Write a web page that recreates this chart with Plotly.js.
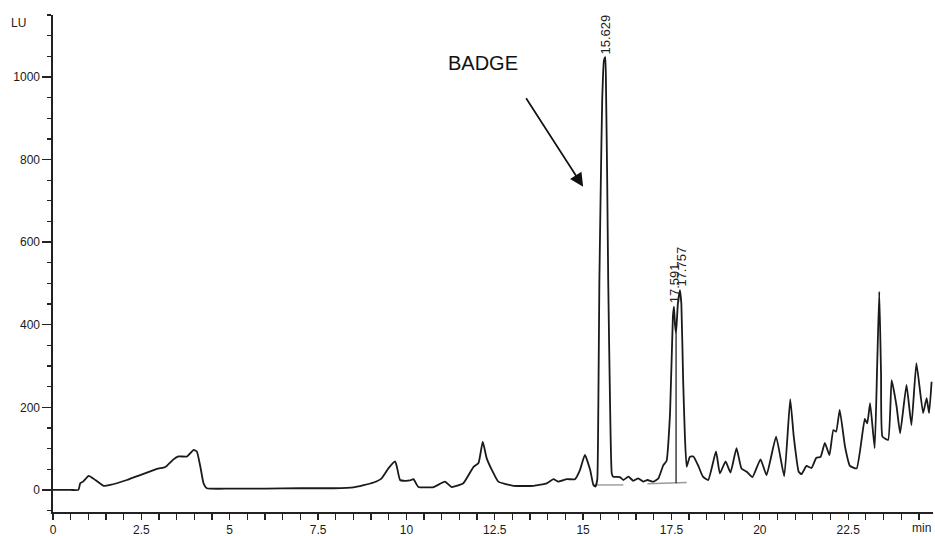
<!DOCTYPE html>
<html>
<head>
<meta charset="utf-8">
<script src="https://cdn.plot.ly/plotly-3.0.1.min.js"></script>
<style>
html,body{margin:0;padding:0;background:#fff;}
#chart{width:935px;height:536px;}
</style>
</head>
<body>
<div id="chart"></div>
<script>
// Retention time (min)
const time = [0,0.5,0.72,0.77,0.85,1.01,1.20,1.43,1.62,2.09,2.47,2.94,3.13,3.22,3.41,3.55,3.79,3.98,4.07,4.17,4.26,4.35,5.0,6.0,7.0,7.94,8.5,9.07,9.30,9.49,9.68,9.73,9.82,9.96,10.1,10.2,10.34,10.77,11.09,11.28,11.61,11.9,12.04,12.16,12.27,12.42,12.6,13.03,13.6,13.97,14.16,14.3,14.54,14.77,14.91,15.05,15.2,15.29,15.35,15.40,15.43,15.46,15.50,15.54,15.59,15.629,15.65,15.68,15.71,15.76,15.81,15.85,16.04,16.14,16.28,16.42,16.56,16.70,16.82,16.99,17.13,17.27,17.36,17.46,17.54,17.57,17.60,17.63,17.68,17.74,17.78,17.83,17.88,17.93,18.02,18.12,18.25,18.39,18.54,18.76,18.87,19.03,19.17,19.34,19.48,19.63,19.79,20.02,20.19,20.46,20.69,20.86,20.96,21.10,21.18,21.32,21.46,21.60,21.72,21.84,21.97,22.08,22.16,22.26,22.41,22.55,22.74,22.97,23.04,23.12,23.25,23.32,23.38,23.43,23.47,23.63,23.73,23.87,23.97,24.15,24.29,24.43,24.62,24.72,24.79,24.86];
// Fluorescence signal (LU)
const signal = [0,0,0,16,20,34,24,10,12,24,36,51,54,58,74,81,81,97,93,56,16,4,3,3,4,4,6,18,28,52,69,56,24,22,23,26,7,7,20,7,16,56,65,117,77,48,20,10,10,16,26,20,26,26,48,85,48,12,8,25,200,508,740,944,1040,1048,960,760,508,220,40,32,31,24,32,22,28,20,24,20,28,60,70,186,420,444,400,380,450,484,450,266,130,56,80,81,60,32,24,93,40,69,42,101,52,44,31,74,36,129,33,220,129,44,38,58,53,78,80,114,84,145,141,194,105,58,52,172,161,210,101,300,480,280,129,121,266,202,137,254,157,307,186,222,186,262];

// Integration baselines
const base1X = [15.29, 16.14];
const base1Y = [12, 12];
const base2X = [16.82, 17.93];
const base2Y = [15, 18];
const dropX = [17.63, 17.63];
const dropY = [16, 380];

// Peak labels
const peakTimes = [15.629, 17.591, 17.757];
const peakHeights = [1048, 444, 484];
const peakLabels = ['15.629', '17.591', '17.757'];

// Axis ticks
const xTickVals = [0, 2.5, 5, 7.5, 10, 12.5, 15, 17.5, 20, 22.5];
const xTickText = ['0', '2.5', '5', '7.5', '10', '12.5', '15', '17.5', '20', '22.5'];
const yTickVals = [0, 200, 400, 600, 800, 1000];

const traces = [
  {x: base1X, y: base1Y, mode: 'lines', line: {color: '#9a9a9a', width: 1.4}, hoverinfo: 'skip'},
  {x: base2X, y: base2Y, mode: 'lines', line: {color: '#9a9a9a', width: 1.4}, hoverinfo: 'skip'},
  {x: dropX, y: dropY, mode: 'lines', line: {color: '#222', width: 1.3}, hoverinfo: 'skip'},
  {x: time, y: signal, mode: 'lines', line: {color: '#1a1a1a', width: 1.8, shape: 'spline', smoothing: 0.4}}
];

const annotations = peakLabels.map((t, i) => ({
  x: peakTimes[i], y: peakHeights[i], xref: 'x', yref: 'y',
  text: t, textangle: -90, showarrow: false,
  xanchor: 'center', yanchor: 'bottom', yshift: 1,
  font: {family: 'Liberation Sans, Arial, sans-serif', size: 13, color: '#222'}
}));
annotations.push({
  x: 12.17, y: 1033, xref: 'x', yref: 'y', text: 'BADGE', showarrow: false,
  font: {family: 'Liberation Sans, Arial, sans-serif', size: 20, color: '#111'}
});
annotations.push({
  x: 15.0, y: 734, xref: 'x', yref: 'y', ax: 13.36, ay: 952, axref: 'x', ayref: 'y',
  text: '', showarrow: true, arrowhead: 2, arrowsize: 1.6, arrowwidth: 1.7, arrowcolor: '#111'
});
annotations.push({
  x: 0, y: 1, xref: 'paper', yref: 'paper', xanchor: 'right', yanchor: 'middle',
  xshift: -25, yshift: -8, text: 'LU', showarrow: false,
  font: {family: 'Liberation Sans, Arial, sans-serif', size: 12, color: '#222'}
});
annotations.push({
  x: 1, y: 0, xref: 'paper', yref: 'paper', xanchor: 'right', yanchor: 'top',
  xshift: 0, yshift: -7, text: 'min', showarrow: false,
  font: {family: 'Liberation Sans, Arial, sans-serif', size: 12, color: '#222'}
});

const layout = {
  width: 935, height: 536,
  margin: {l: 53, r: 2, t: 15, b: 24},
  paper_bgcolor: '#fff', plot_bgcolor: '#fff',
  showlegend: false,
  font: {family: 'Liberation Sans, Arial, sans-serif', size: 12, color: '#222'},
  xaxis: {
    range: [0, 24.9], showgrid: false, zeroline: false,
    showline: true, linecolor: '#222', linewidth: 1.6,
    ticks: 'outside', ticklen: 6, tickwidth: 1.3, tickcolor: '#222',
    tickmode: 'array', tickvals: xTickVals, ticktext: xTickText,
    minor: {dtick: 0.5, tick0: 0, ticks: 'outside', ticklen: 6, tickwidth: 1.3, tickcolor: '#222', showgrid: false},
    tickfont: {size: 12, color: '#1a1a1a'}
  },
  yaxis: {
    range: [-53.5, 1150], showgrid: false, zeroline: false,
    showline: true, linecolor: '#222', linewidth: 1.6,
    ticks: 'outside', ticklen: 9, tickwidth: 1.3, tickcolor: '#222',
    tickmode: 'array', tickvals: yTickVals,
    minor: {dtick: 50, tick0: 0, ticks: 'outside', ticklen: 4, tickwidth: 1.3, tickcolor: '#222', showgrid: false},
    tickfont: {size: 12, color: '#1a1a1a'}
  },
  annotations: annotations
};

Plotly.newPlot('chart', traces, layout, {displayModeBar: false, staticPlot: true});
</script>
</body>
</html>
